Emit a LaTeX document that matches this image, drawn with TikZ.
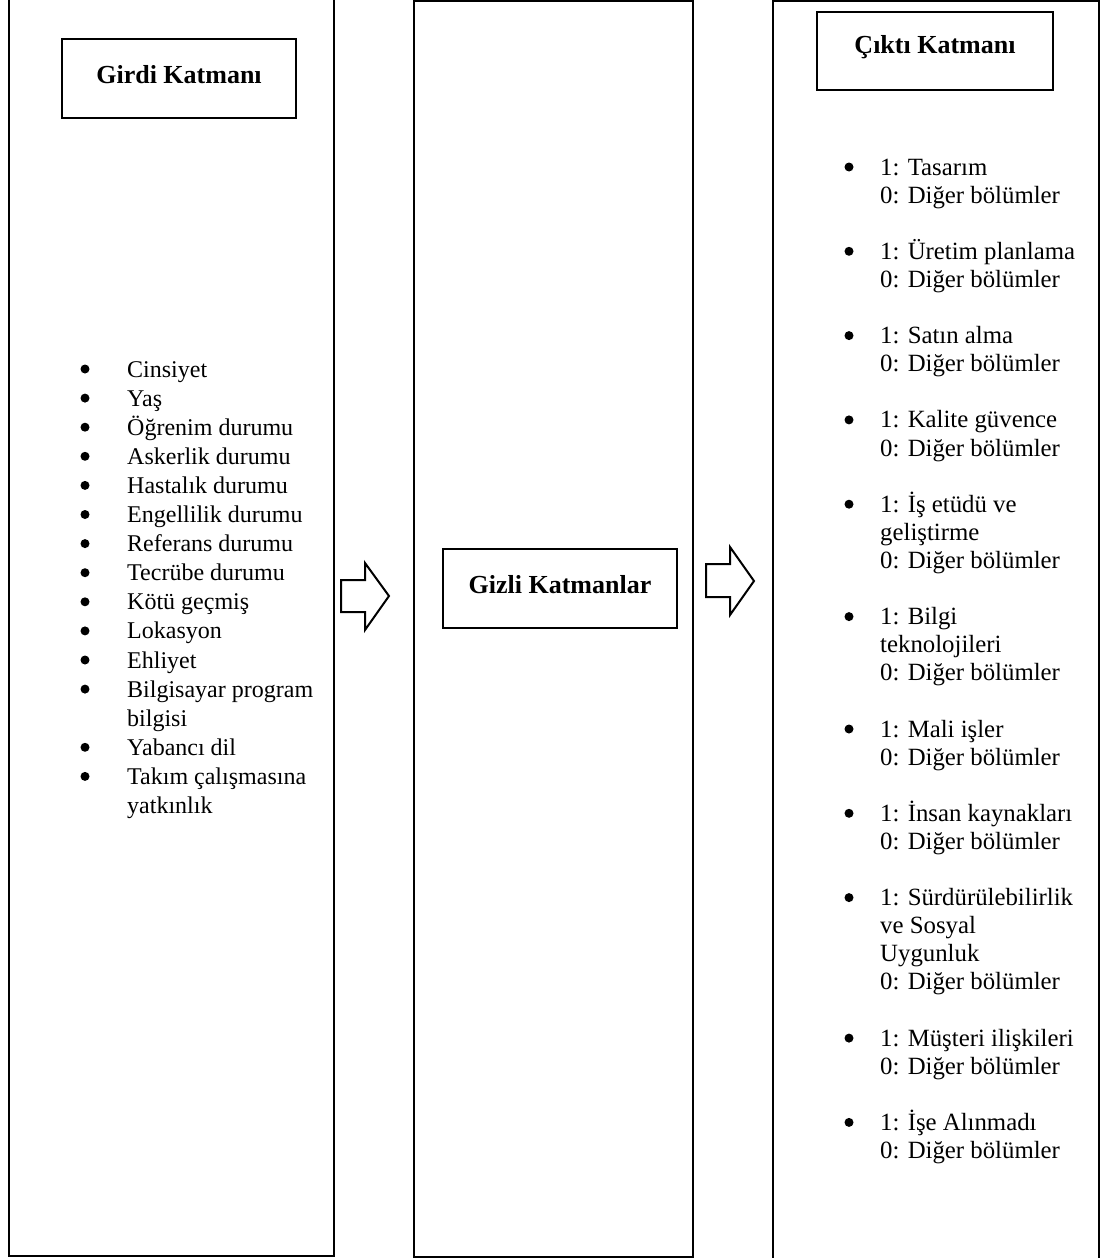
\documentclass[tikz,border=0pt]{standalone}
\usepackage{fontspec}
\setmainfont{Liberation Serif}
\begin{document}
\begin{tikzpicture}[x=1pt,y=-1pt,
  panel/.style={draw, line width=2pt},
  headbox/.style={draw, line width=2.8pt, inner sep=0pt},
  headtext/.style={inner sep=0pt, font=\fontsize{26}{30}\selectfont\bfseries},
  item/.style={anchor=base west, inner sep=0pt, font=\fontsize{24}{28}\selectfont},
  ritem/.style={anchor=base west, inner sep=0pt, font=\fontsize{24.8}{28}\selectfont},
  blt/.style={fill=black, circle, inner sep=0pt, minimum size=9pt},
  blockarrow/.style={draw, line width=2pt, fill=white, line join=miter}]
\useasboundingbox (0,0) rectangle (1106,1258);
% panels
\draw[panel] (9,-20) rectangle (334,1256);
\draw[panel] (414,1) rectangle (693,1257);
\draw[panel] (773,1) rectangle (1099,1280);
% headings
\node[headbox, minimum width=234pt, minimum height=79pt] (girdi) at (179,78.5) {};
\node[headtext] (girditxt) at ([yshift=4pt]girdi.center) {Girdi Katmanı};
\node[headbox, minimum width=234pt, minimum height=79pt] (gizli) at (560,588.5) {};
\node[headtext] (gizlitxt) at ([yshift=4pt]gizli.center) {Gizli Katmanlar};
\node[headbox, minimum width=236pt, minimum height=78pt] (cikti) at (935,51) {};
\node[headtext] (ciktitxt) at ([yshift=4pt]cikti.center) {Çıktı Katmanı};
% block arrows
\draw[blockarrow] (341,580) -- (365,580) -- (365,563) -- (389,596) -- (365,630) -- (365,612) -- (341,612) -- cycle;
\draw[blockarrow] (706,564) -- (730,564) -- (730,547) -- (754,581) -- (730,615) -- (730,597) -- (706,597) -- cycle;
% input list
\foreach \k/\t in {0/Cinsiyet,1/Yaş,2/Öğrenim durumu,3/Askerlik durumu,4/Hastalık durumu,5/Engellilik durumu,6/Referans durumu,7/Tecrübe durumu,8/Kötü geçmiş,9/Lokasyon,10/Ehliyet,11/Bilgisayar program,12/bilgisi,13/Yabancı dil,14/Takım çalışmasına,15/yatkınlık}
  \node[item] (l\k) at (127,{377+\k*29.1}) {\t};
\foreach \k in {0,...,11,13,14}
  \node[blt] (lb\k) at (85,{377+\k*29.1-8}) {};
% output list
\foreach \k/\t in {0/1: Tasarım,1/0: Diğer bölümler,
  3/1: Üretim planlama,4/0: Diğer bölümler,
  6/1: Satın alma,7/0: Diğer bölümler,
  9/1: Kalite güvence,10/0: Diğer bölümler,
  12/1: İş etüdü ve,13/geliştirme,14/0: Diğer bölümler,
  16/1: Bilgi,17/teknolojileri,18/0: Diğer bölümler,
  20/1: Mali işler,21/0: Diğer bölümler,
  23/1: İnsan kaynakları,24/0: Diğer bölümler,
  26/1: Sürdürülebilirlik,27/ve Sosyal,28/Uygunluk,29/0: Diğer bölümler,
  31/1: Müşteri ilişkileri,32/0: Diğer bölümler,
  34/1: İşe Alınmadı,35/0: Diğer bölümler}
  \node[ritem] (r\k) at (880,{175+\k*28.1}) {\t};
\foreach \k in {0,3,6,9,12,16,20,23,26,31,34}
  \node[blt] (rb\k) at (849,{175+\k*28.1-8}) {};
\end{tikzpicture}
\end{document}
